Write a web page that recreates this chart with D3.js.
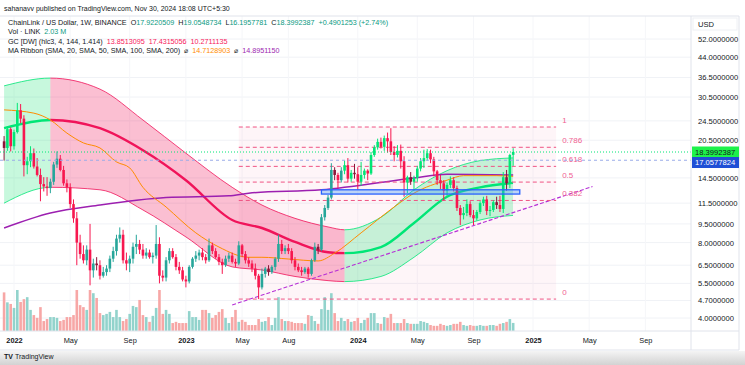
<!DOCTYPE html>
<html>
<head>
<meta charset="utf-8">
<script src="https://cdn.jsdelivr.net/npm/d3@7"></script>
<style>
  body { margin: 0; background: #fff; }
  svg { display: block; font-family: "Liberation Sans", Arial, sans-serif; }
</style>
</head>
<body>
<svg id="chart" width="745" height="365"></svg>
<script>
// LINK/USD weekly candles, first bar = week of 2021-12-13
const firstWeek = "2021-12-13";
const opens = [20.3,19.1,22.7,19.4,22.1,27.0,25.0,16.3,16.9,18.2,16.1,14.9,13.7,13.4,13.2,14.0,16.4,17.3,15.6,13.8,
  13.3,11.4,10.0,8.0,7.2,6.8,7.5,6.2,6.6,6.5,5.9,6.1,6.3,6.9,7.4,8.3,8.6,6.8,6.6,6.9,
  7.7,7.9,7.5,7.1,7.3,7.0,7.1,7.9,5.9,5.8,6.8,7.4,7.0,6.4,6.2,5.7,5.6,6.4,6.9,7.1,
  7.3,7.0,6.8,7.8,7.4,7.0,6.7,6.5,6.9,7.1,6.7,6.6,7.8,7.2,6.8,6.6,6.3,5.9,5.3,6.0,
  6.3,6.1,6.4,6.9,7.9,7.4,7.6,7.4,6.8,6.4,6.2,6.1,6.3,6.0,6.8,7.7,7.5,10.1,11.0,12.1,
  15.6,14.9,14.2,15.5,16.3,14.4,15.2,15.0,14.0,14.9,15.5,15.1,17.9,19.2,20.2,19.3,20.9,20.3,18.4,17.9,
  18.6,16.9,13.9,14.6,14.0,14.5,15.8,16.9,17.4,18.2,17.2,15.4,14.2,13.8,12.9,13.6,14.2,13.2,11.0,10.3,
  10.5,11.4,10.3,10.0,10.6,11.5,11.9,10.7,10.8,11.6,11.3,10.9,14.6,13.8,17.9220509];
const highs = [21.3,23.3,23.1,22.6,28.9,28.6,25.8,17.6,19.4,19.0,17.4,15.8,14.6,14.6,14.4,16.8,18.5,17.9,16.2,14.3,
  13.8,11.9,10.6,8.6,7.8,7.8,9.5,6.9,7.0,6.8,6.4,6.5,7.1,7.7,8.6,9.2,9.0,7.3,7.1,8.0,
  8.6,8.2,7.9,7.6,7.5,7.3,9.4,8.4,6.2,7.0,7.6,7.6,7.2,6.7,6.4,5.9,6.5,7.0,7.4,7.5,
  7.6,7.2,8.3,8.0,7.6,7.2,6.9,7.1,7.3,7.3,6.9,8.1,7.9,7.4,7.0,6.8,6.6,6.0,6.3,6.4,
  6.5,6.5,7.0,8.6,8.2,7.8,7.9,7.6,7.0,6.6,6.4,6.4,6.4,6.9,8.0,7.9,10.4,11.3,12.4,16.6,
  16.0,15.2,16.0,17.0,17.4,15.6,16.5,16.0,16.8,15.8,15.7,18.4,19.6,20.8,21.0,21.4,22.0,22.9,19.4,19.6,
  19.7,17.7,14.8,15.3,14.8,16.2,17.4,18.8,18.9,18.8,17.6,15.6,14.9,14.2,13.9,14.7,14.6,13.5,11.3,11.1,
  11.9,11.7,10.8,10.8,11.7,12.2,12.3,11.2,11.8,12.2,12.3,15.3,15.6,18.1,19.0548734];
const lows = [17.0,18.6,18.5,18.8,21.8,24.0,14.7,15.0,16.0,15.8,14.7,11.7,12.8,12.3,12.6,13.6,15.9,15.4,13.5,12.7,
  11.0,9.6,6.5,6.9,6.6,6.5,5.4,5.8,6.2,5.7,5.8,5.9,6.1,6.7,7.1,8.0,6.6,6.2,6.1,6.6,
  7.2,7.2,6.9,6.9,6.9,6.6,6.9,5.5,5.6,5.6,6.6,6.9,6.2,6.0,5.6,5.3,5.5,6.3,6.7,6.8,
  6.8,6.6,6.7,7.2,6.9,6.5,6.0,6.4,6.7,6.6,6.4,6.5,7.0,6.6,6.4,6.1,5.7,4.76,5.2,5.8,
  5.9,6.0,6.2,6.7,7.2,7.2,7.2,6.6,6.2,6.1,5.9,6.0,5.8,5.9,6.7,7.2,7.4,9.8,10.8,11.9,
  14.2,13.2,13.9,15.0,13.9,14.0,14.4,13.0,13.5,14.4,14.2,14.9,17.6,18.8,19.0,18.6,18.3,17.9,16.9,17.5,
  15.8,12.2,12.6,13.6,12.9,14.0,15.4,15.9,17.0,16.6,14.7,13.6,13.1,11.8,12.3,13.2,12.8,10.7,9.4,9.9,
  10.2,10.1,9.4,9.8,10.4,11.2,10.3,10.2,10.6,10.9,10.6,10.5,12.9,13.2,16.1957781];
const closes = [19.1,22.7,19.4,22.1,27.0,25.0,16.3,16.9,18.2,16.1,14.9,13.7,13.4,13.2,14.0,16.4,17.3,15.6,13.8,13.3,
  11.4,10.0,8.0,7.2,6.8,7.5,6.2,6.6,6.5,5.9,6.1,6.3,6.9,7.4,8.3,8.6,6.8,6.6,6.9,7.7,
  7.9,7.5,7.1,7.3,7.0,7.1,7.9,5.9,5.8,6.8,7.4,7.0,6.4,6.2,5.7,5.6,6.4,6.9,7.1,7.3,
  7.0,6.8,7.8,7.4,7.0,6.7,6.5,6.9,7.1,6.7,6.6,7.8,7.2,6.8,6.6,6.3,5.9,5.3,6.0,6.3,
  6.1,6.4,6.9,7.9,7.4,7.6,7.4,6.8,6.4,6.2,6.1,6.3,6.0,6.8,7.7,7.5,10.1,11.0,12.1,15.6,
  14.9,14.2,15.5,16.3,14.4,15.2,15.0,14.0,14.9,15.5,15.1,17.9,19.2,20.2,19.3,20.9,20.3,18.4,17.9,18.6,
  16.9,13.9,14.6,14.0,14.5,15.8,16.9,17.4,18.2,17.2,15.4,14.2,13.8,12.9,13.6,14.2,13.2,11.0,10.3,10.5,
  11.4,10.3,10.0,10.6,11.5,11.9,10.7,10.8,11.6,11.3,10.9,14.6,13.8,17.9,18.3992387];
// weekly volume, millions of LINK
const volumes = [9.7,7.2,6.8,5.8,10.3,7.3,8.0,8.5,5.3,4.0,3.3,6.0,2.5,3.0,3.5,3.5,3.3,2.5,2.8,3.5,
  3.5,4.0,10.3,6.5,6.0,5.3,10.3,9.5,8.3,4.5,4.0,4.3,4.8,3.5,5.3,3.5,2.5,3.0,4.3,6.3,
  6.0,7.8,4.0,3.5,2.3,3.8,5.8,10.3,4.3,5.3,4.3,2.0,2.3,2.0,2.0,2.0,5.0,3.5,3.5,2.8,
  5.3,5.3,4.5,3.3,4.0,4.8,5.5,3.3,2.0,3.5,5.3,2.3,2.8,2.3,1.5,1.5,1.5,3.0,2.3,2.5,
  3.5,1.5,3.3,8.5,3.0,2.5,2.5,2.3,2.0,2.0,2.0,1.8,4.0,3.8,2.5,1.8,5.5,8.5,5.3,9.5,
  4.5,2.5,3.3,2.5,3.0,2.3,2.5,3.3,2.0,2.8,3.3,4.5,4.5,2.0,1.8,3.5,3.3,4.3,2.0,2.0,
  2.0,3.0,2.0,1.8,1.8,1.8,2.5,2.3,2.0,1.5,1.3,1.3,1.8,1.5,1.3,1.5,1.8,1.8,2.3,1.5,
  1.3,1.5,1.3,1.3,1.5,1.3,1.3,1.5,1.5,1.3,1.8,2.0,2.3,3.0,2.03];

// Gaussian channel
const gcDates = ["2021-12-13","2022-03-21","2022-07-04","2022-10-03","2023-01-02","2023-04-10","2023-06-12",
  "2023-08-21","2023-10-30","2023-12-04","2024-02-19","2024-04-29","2024-07-08","2024-09-16","2024-11-25"];
const gcUpper = [33.8,36.3,32.8,24.7,18.2,13.3,11.3,10.0,9.24,9.0,10.1,13.0,15.5,17.0,17.43];
const gcMid   = [22.9,24.7,22.9,18.7,14.2,9.85,9.15,8.05,7.32,7.26,7.68,9.58,12.2,13.3,13.85];
const gcLower = [11.5,13.3,13.0,10.8,8.43,6.40,6.22,5.86,5.64,5.59,5.86,6.99,8.75,9.85,10.27];

// MA ribbon: orange and purple SMAs
const maOrangeDates = ["2021-12-13","2022-02-14","2022-03-21","2022-04-25","2022-05-30","2022-07-04","2022-08-08",
  "2022-09-05","2022-10-03","2022-11-21","2023-01-23","2023-03-13","2023-05-15","2023-06-12","2023-08-07",
  "2023-10-09","2023-11-13","2024-01-08","2024-03-18","2024-04-29","2024-07-08","2024-08-12","2024-10-21","2024-11-25"];
const maOrange = [27.1,26.3,24.7,21.9,20.0,19.1,16.8,15.9,13.3,11.1,8.75,7.68,6.99,6.99,6.88,6.76,7.26,8.75,11.1,12.6,14.2,14.8,14.8,14.71];
const maPurpleDates = ["2021-12-13","2022-03-21","2022-07-04","2022-11-21","2023-04-03","2023-05-15","2023-10-16",
  "2024-04-29","2024-07-08","2024-11-25"];
const maPurple = [9.15,10.5,11.3,12.1,12.3,12.6,13.0,14.5,15.0,14.895];

// drawings
const fibDates = ["2023-04-24","2025-02-24"];
const fibLow = 4.76, fibHigh = 23.15;
const fibLevels = [1, 0.786, 0.618, 0.5, 0.382, 0];
const trendDates = ["2023-04-10","2025-05-12"];
const trendPrices = [4.51, 13.4];
const boxDates = ["2023-10-16","2024-12-09"];
const boxPrices = [12.5, 13.0];
const lastPrice = 18.3992387, bluePrice = 17.0577824;

const priceTicks = [52, 44, 36.5, 30.5, 24.5, 20.5, 14.5, 11.5, 9.5, 8, 6.5, 5.5, 4.7, 4];
const timeTicks = ["2022-01-03","2022-05-02","2022-09-05","2023-01-02","2023-05-01","2023-08-07",
  "2024-01-01","2024-05-06","2024-09-02","2025-01-06","2025-05-05","2025-09-01"];
const timeLabels = ["2022","May","Sep","2023","May","Aug","2024","May","Sep","2025","May","Sep"];

const parse = d3.utcParse("%Y-%m-%d");
const svg = d3.select("#chart");
const paneR = 691, paneT = 16, paneB = 331;

const x = d3.scaleUtc().domain([parse("2022-01-03"), parse("2025-01-06")]).range([14, 533]);
const y = d3.scaleLog().domain([4, 52]).range([318, 39]);
const yVol = d3.scaleLinear().domain([0, 10.3]).range([331, 290]);

const GREEN = "#00e676", TEAL = "#26a69a", RED = "#f7174f", MAROON = "#8c1538";

const dates = opens.map((_, i) => d3.utcDay.offset(parse(firstWeek), 7 * i));
const gc = gcDates.map((d, i) => ({ date: parse(d), upper: gcUpper[i], mid: gcMid[i], lower: gcLower[i] }));

function midRising(date) {
  let j = gc.findIndex((g, k) => k < gc.length - 1 && date >= g.date && date < gc[k + 1].date);
  if (j < 0) j = gc.length - 2;
  return gc[j + 1].mid > gc[j].mid;
}

svg.append("rect").attr("width", 745).attr("height", 365).attr("fill", "#fff");

const defs = svg.append("defs");
defs.append("clipPath").attr("id", "pane")
  .append("rect").attr("x", 0).attr("y", paneT).attr("width", paneR).attr("height", paneB - paneT);
const grad = defs.append("linearGradient").attr("id", "shade").attr("x1", 0).attr("x2", 0).attr("y1", 0).attr("y2", 1);
grad.append("stop").attr("offset", "0%").attr("stop-color", "#f4f4f4");
grad.append("stop").attr("offset", "100%").attr("stop-color", "#d2d2d2");

const pane = svg.append("g").attr("clip-path", "url(#pane)");

// grid
pane.append("g").selectAll("line").data(priceTicks).join("line")
  .attr("x1", 0).attr("x2", paneR).attr("y1", d => y(d)).attr("y2", d => y(d))
  .attr("stroke", "#f0f2f6").attr("stroke-width", 1);
pane.append("g").selectAll("line").data(timeTicks).join("line")
  .attr("x1", d => x(parse(d))).attr("x2", d => x(parse(d))).attr("y1", paneT).attr("y2", paneB)
  .attr("stroke", "#f5f6f9").attr("stroke-width", 1);

// fib background
const fibPrice = l => fibLow + l * (fibHigh - fibLow);
pane.append("rect")
  .attr("x", x(parse(fibDates[0]))).attr("width", x(parse(fibDates[1])) - x(parse(fibDates[0])))
  .attr("y", y(fibHigh)).attr("height", y(fibLow) - y(fibHigh))
  .attr("fill", "#e91e63").attr("opacity", 0.045);

// Gaussian channel, split into rising / falling runs
const runs = [];
for (let j = 0; j < gc.length - 1; j++) {
  const up = gc[j + 1].mid > gc[j].mid;
  if (runs.length && runs[runs.length - 1].up === up) runs[runs.length - 1].end = j + 1;
  else runs.push({ start: j, end: j + 1, up });
}
const band = d3.area().x(d => x(d.date)).y0(d => y(d.lower)).y1(d => y(d.upper)).curve(d3.curveMonotoneX);
const lineOf = key => d3.line().x(d => x(d.date)).y(d => y(d[key])).curve(d3.curveMonotoneX);
const gcLayer = pane.append("g");
const gcLines = [];
runs.forEach((r, i) => {
  const id = "run" + i;
  defs.append("clipPath").attr("id", id).append("rect")
    .attr("x", x(gc[r.start].date) - (i ? 0 : 6)).attr("y", 0)
    .attr("width", x(gc[r.end].date) - x(gc[r.start].date) + (i ? 0 : 6)).attr("height", 365);
  gcLayer.append("path").datum(gc).attr("clip-path", `url(#${id})`).attr("d", band)
    .attr("fill", r.up ? "rgba(0,222,100,0.22)" : "rgba(240,20,90,0.27)");
  gcLines.push({ id, up: r.up });
});

// volume
pane.append("g").selectAll("rect").data(volumes).join("rect")
  .attr("x", (d, i) => x(dates[i]) - 1.3).attr("width", 2.6)
  .attr("y", d => yVol(d)).attr("height", d => yVol(0) - yVol(d))
  .attr("fill", (d, i) => closes[i] >= opens[i] ? "#92d3cc" : "#f7a7a6");

// channel lines
gcLines.forEach(r => {
  const c = r.up ? "#00e676" : "#f0145a";
  const g = pane.append("g").attr("clip-path", `url(#${r.id})`).attr("fill", "none");
  g.append("path").datum(gc).attr("d", lineOf("upper")).attr("stroke", c).attr("stroke-width", 0.8);
  g.append("path").datum(gc).attr("d", lineOf("lower")).attr("stroke", c).attr("stroke-width", 0.8);
  g.append("path").datum(gc).attr("d", lineOf("mid")).attr("stroke", c).attr("stroke-width", 2.4);
});

// moving averages
const maLine = d3.line().x(d => x(d[0])).y(d => y(d[1])).curve(d3.curveMonotoneX);
pane.append("path").datum(maPurpleDates.map((d, i) => [parse(d), maPurple[i]]))
  .attr("d", maLine).attr("fill", "none").attr("stroke", "#9c1fb0").attr("stroke-width", 1.5);
pane.append("path").datum(maOrangeDates.map((d, i) => [parse(d), maOrange[i]]))
  .attr("d", maLine).attr("fill", "none").attr("stroke", "#ff8c00").attr("stroke-width", 1);

// trend line
pane.append("line")
  .attr("x1", x(parse(trendDates[0]))).attr("y1", y(trendPrices[0]))
  .attr("x2", x(parse(trendDates[1]))).attr("y2", y(trendPrices[1]))
  .attr("stroke", "#b62fd6").attr("stroke-width", 1.1).attr("stroke-dasharray", "4,2");

// fib lines and labels
const fibG = pane.append("g");
fibG.selectAll("line").data(fibLevels).join("line")
  .attr("x1", x(parse(fibDates[0]))).attr("x2", x(parse(fibDates[1])))
  .attr("y1", d => y(fibPrice(d))).attr("y2", d => y(fibPrice(d)))
  .attr("stroke", "#ef5383").attr("stroke-width", 1).attr("stroke-dasharray", "4,3");
fibG.selectAll("text").data(fibLevels).join("text")
  .attr("x", x(parse(fibDates[1])) + 6).attr("y", d => y(fibPrice(d)) - 4)
  .attr("font-size", 8).attr("fill", "#f06292").text(d => d);

// candles
function candleColor(i) {
  if (closes[i] >= opens[i]) return midRising(dates[i]) ? GREEN : TEAL;
  const src = (highs[i] + lows[i] + closes[i]) / 3;
  const prev = i > 0 ? (highs[i - 1] + lows[i - 1] + closes[i - 1]) / 3 : src;
  return src < prev ? RED : MAROON;
}
const candles = pane.append("g").selectAll("g").data(opens).join("g");
candles.append("line")
  .attr("x1", (d, i) => x(dates[i])).attr("x2", (d, i) => x(dates[i]))
  .attr("y1", (d, i) => y(highs[i])).attr("y2", (d, i) => y(lows[i]))
  .attr("stroke", (d, i) => candleColor(i)).attr("stroke-width", 1);
candles.append("rect")
  .attr("x", (d, i) => x(dates[i]) - 1.3).attr("width", 2.6)
  .attr("y", (d, i) => y(Math.max(opens[i], closes[i])))
  .attr("height", (d, i) => Math.max(1, Math.abs(y(opens[i]) - y(closes[i]))))
  .attr("fill", (d, i) => candleColor(i));

// blue support box
pane.append("rect")
  .attr("x", x(parse(boxDates[0]))).attr("width", x(parse(boxDates[1])) - x(parse(boxDates[0])))
  .attr("y", y(boxPrices[1])).attr("height", y(boxPrices[0]) - y(boxPrices[1]))
  .attr("fill", "rgba(66,150,243,0.35)").attr("stroke", "#2962ff").attr("stroke-width", 1.3);

// price lines
pane.append("line").attr("x1", 0).attr("x2", paneR).attr("y1", y(lastPrice)).attr("y2", y(lastPrice))
  .attr("stroke", "#00e676").attr("stroke-width", 1).attr("stroke-dasharray", "1,2");
pane.append("line").attr("x1", 0).attr("x2", paneR).attr("y1", y(bluePrice)).attr("y2", y(bluePrice))
  .attr("stroke", "#9aace8").attr("stroke-width", 1).attr("stroke-dasharray", "3,3");

// frame
const frame = svg.append("g").attr("stroke", "#e0e3eb").attr("fill", "none");
frame.append("line").attr("x1", 0).attr("x2", 739).attr("y1", paneT).attr("y2", paneT);
frame.append("line").attr("x1", 0).attr("x2", 739).attr("y1", paneB).attr("y2", paneB);
frame.append("line").attr("x1", paneR).attr("x2", paneR).attr("y1", paneT).attr("y2", 350);
frame.append("line").attr("x1", 739).attr("x2", 739).attr("y1", paneT).attr("y2", 350);
frame.append("line").attr("x1", 0).attr("x2", 739).attr("y1", 350).attr("y2", 350);
frame.append("rect").attr("x", 693).attr("y", 18).attr("width", 44).attr("height", 12).attr("stroke", "#eef0f4");

// price axis
const yAxis = svg.append("g").attr("transform", `translate(${paneR + 4},0)`)
  .call(d3.axisRight(y).tickValues(priceTicks).tickFormat(d3.format(".7f")).tickSize(0));
yAxis.select(".domain").remove();
yAxis.selectAll("text").attr("font-size", 7.6).attr("fill", "#131722")
  .attr("font-family", "Liberation Sans, Arial, sans-serif");
svg.append("text").attr("x", 698).attr("y", 27).attr("font-size", 7.6).attr("fill", "#131722").text("USD");

// price labels
const tags = [
  { p: lastPrice, yc: y(lastPrice), bg: "#1df24a", fg: "#131722" },
  { p: bluePrice, yc: y(lastPrice) + 10.5, bg: "#1f4fd6", fg: "#ffffff" }
];
tags.forEach(t => {
  svg.append("rect").attr("x", paneR + 1).attr("y", t.yc - 5.5).attr("width", 47).attr("height", 11).attr("fill", t.bg);
  svg.append("text").attr("x", paneR + 4).attr("y", t.yc + 2.8).attr("font-size", 7.6).attr("fill", t.fg)
    .text(d3.format(".7f")(t.p));
});

// time axis
const xAxis = svg.append("g").attr("transform", `translate(0,${paneB + 4})`)
  .call(d3.axisBottom(x).tickValues(timeTicks.map(parse)).tickFormat((d, i) => timeLabels[i]).tickSize(0));
xAxis.select(".domain").remove();
xAxis.selectAll("text").attr("font-size", 7.4).attr("fill", "#131722")
  .attr("font-family", "Liberation Sans, Arial, sans-serif")
  .attr("font-weight", (d, i) => /^\d/.test(timeLabels[i]) ? "bold" : "normal");

// header
svg.append("text").attr("x", 4).attr("y", 11).attr("font-size", 7).attr("fill", "#131722")
  .text("sahanavv published on TradingView.com, Nov 30, 2024 18:08 UTC+5:30");
const up = "#089981", gcCol = "#f7175a";
const legend = [
  [["ChainLink / US Dollar, 1W, BINANCE  ", "#131722"], ["O", "#131722"], ["17.9220509  ", up], ["H", "#131722"], ["19.0548734  ", up],
   ["L", "#131722"], ["16.1957781  ", up], ["C", "#131722"], ["18.3992387  ", up], ["+0.4901253 (+2.74%)", up]],
  [["Vol · LINK  ", "#131722"], ["2.03 M", up]],
  [["GC [DW] (hlc3, 4, 144, 1.414)  ", "#131722"], ["13.8513095  ", gcCol], ["17.4315056  ", gcCol], ["10.2711135", gcCol]],
  [["MA Ribbon (SMA, 20, SMA, 50, SMA, 100, SMA, 200)  ⌀  ", "#131722"], ["14.7128903", "#ff8c00"], ["  ⌀  ", "#131722"], ["14.8951150", "#9c27b0"]]
];
const legendY = [24.5, 34, 43.5, 52.5];
legend.forEach((parts, i) => {
  const t = svg.append("text").attr("x", 8).attr("y", legendY[i]).attr("font-size", 7.2).attr("xml:space", "preserve");
  parts.forEach(p => t.append("tspan").attr("fill", p[1]).text(p[0]));
});

// footer
svg.append("rect").attr("x", 0).attr("y", 351).attr("width", 745).attr("height", 14).attr("fill", "url(#shade)");
svg.append("text").attr("x", 4).attr("y", 359).attr("font-size", 7).attr("font-weight", "bold").attr("fill", "#131722").text("TV");
svg.append("text").attr("x", 15).attr("y", 359).attr("font-size", 7).attr("fill", "#131722").text("TradingView");
</script>
</body>
</html>
